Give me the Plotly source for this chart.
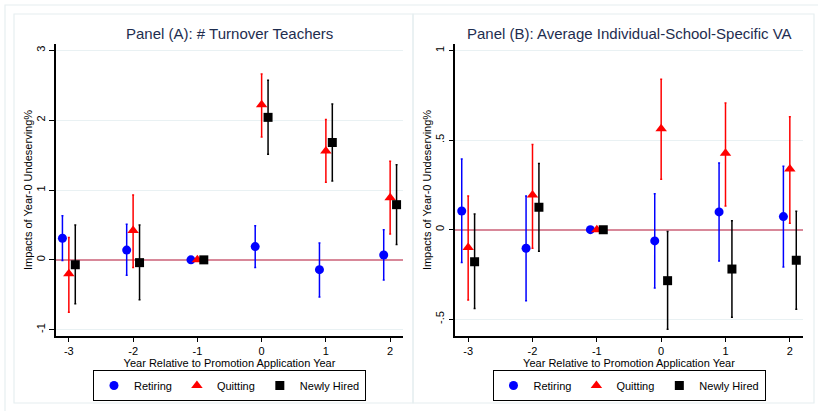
import plotly.graph_objects as go

W, H = 818, 411

years = [-3, -2, -1, 0, 1, 2]
series_names = ["Retiring", "Quitting", "Newly Hired"]
offsets = [-0.1, 0.0, 0.1]

# Panel A: # Turnover Teachers
a_ret = [0.31, 0.14, 0.0, 0.19, -0.14, 0.07]
a_ret_hi = [0.63, 0.51, 0.0, 0.49, 0.24, 0.43]
a_ret_lo = [-0.01, -0.22, 0.0, -0.11, -0.53, -0.29]
a_quit = [-0.20, 0.42, 0.0, 2.22, 1.56, 0.89]
a_quit_hi = [0.32, 0.93, 0.0, 2.66, 2.01, 1.41]
a_quit_lo = [-0.75, -0.11, 0.0, 1.76, 1.11, 0.37]
a_hire = [-0.07, -0.04, 0.0, 2.04, 1.68, 0.79]
a_hire_hi = [0.50, 0.50, 0.0, 2.57, 2.23, 1.36]
a_hire_lo = [-0.63, -0.57, 0.0, 1.51, 1.13, 0.22]

# Panel B: Average Individual-School-Specific VA
b_ret = [0.104, -0.104, 0.0, -0.063, 0.099, 0.073]
b_ret_hi = [0.395, 0.188, 0.0, 0.200, 0.373, 0.354]
b_ret_lo = [-0.184, -0.397, 0.0, -0.326, -0.175, -0.208]
b_quit = [-0.100, 0.194, 0.0, 0.564, 0.427, 0.339]
b_quit_hi = [0.188, 0.475, 0.0, 0.840, 0.708, 0.631]
b_quit_lo = [-0.393, -0.104, 0.0, 0.281, 0.132, 0.036]
b_hire = [-0.179, 0.125, 0.0, -0.285, -0.220, -0.171]
b_hire_hi = [0.088, 0.369, 0.0, -0.011, 0.050, 0.103]
b_hire_lo = [-0.441, -0.121, 0.0, -0.556, -0.489, -0.445]

a_ticks = [-1, 0, 1, 2, 3]
a_ticktext = ["-1", "0", "1", "2", "3"]
b_ticks = [-0.5, 0, 0.5, 1]
b_ticktext = ["-.5", "0", ".5", "1"]

titles = ["Panel (A): # Turnover Teachers", "Panel (B): Average Individual-School-Specific VA"]
xtitle = "Year Relative to Promotion Application Year"
ytitle = "Impacts of Year-0 Undeserving%"

colors = ["#0000ff", "#ff0000", "#000000"]
symbols = ["circle", "triangle-up", "square"]
msizes = [9, 10, 9]

def px(x):
    return x / W

def py(y):
    return 1 - y / H

fig = go.Figure()

panels = [
    ([a_ret, a_quit, a_hire], [a_ret_hi, a_quit_hi, a_hire_hi], [a_ret_lo, a_quit_lo, a_hire_lo], "x", "y", "legend"),
    ([b_ret, b_quit, b_hire], [b_ret_hi, b_quit_hi, b_hire_hi], [b_ret_lo, b_quit_lo, b_hire_lo], "x2", "y2", "legend2"),
]

for vals, his, los, xa, ya, lg in panels:
    for i in range(3):
        xs = [yr + offsets[i] for yr in years]
        plus = [h - v for h, v in zip(his[i], vals[i])]
        minus = [v - l for v, l in zip(vals[i], los[i])]
        fig.add_trace(go.Scatter(
            x=xs, y=vals[i], mode="markers", name=series_names[i],
            xaxis=xa, yaxis=ya, legend=lg,
            marker=dict(color=colors[i], symbol=symbols[i], size=msizes[i], line=dict(width=0)),
            error_y=dict(type="data", symmetric=False, array=plus, arrayminus=minus,
                         color=colors[i], thickness=1.5, width=1),
        ))

font_family = "Liberation Sans, Arial, sans-serif"
grid_c = "#e9f1f3"
zero_c = "#d88899"

ydom = [py(336), py(44)]
common_x = dict(range=[-3.2, 2.2], tickvals=years, ticktext=[str(v) for v in years],
                showgrid=False, zeroline=False, showline=True, linecolor="black", linewidth=1.5,
                ticks="outside", ticklen=4, tickcolor="black", tickwidth=1,
                tickfont=dict(size=11, color="black", family=font_family),
                title=dict(text=xtitle, font=dict(size=11, color="black", family=font_family), standoff=0))
common_y = dict(showgrid=True, gridcolor=grid_c, gridwidth=1, zeroline=True, zerolinecolor=zero_c,
                zerolinewidth=2, showline=True, linecolor="black", linewidth=1.5,
                ticks="outside", ticklen=5, tickcolor="black", tickwidth=1, tickangle=-90,
                tickfont=dict(size=11, color="black", family=font_family),
                title=dict(text=ytitle, font=dict(size=11, color="black", family=font_family), standoff=0))

fig.update_layout(
    width=W, height=H,
    margin=dict(l=0, r=0, t=0, b=0),
    paper_bgcolor="white", plot_bgcolor="white",
    font=dict(family=font_family, color="black"),
    xaxis=dict(domain=[px(56), px(403)], anchor="y", **common_x),
    yaxis=dict(domain=ydom, anchor="x", range=[-1.09, 3.09], tickvals=a_ticks, ticktext=a_ticktext, **common_y),
    xaxis2=dict(domain=[px(455.3), px(802.7)], anchor="y2", **common_x),
    yaxis2=dict(domain=ydom, anchor="x2", range=[-0.594, 1.037], tickvals=b_ticks, ticktext=b_ticktext, **common_y),
    legend=dict(orientation="h", x=px(229.5), xanchor="center", y=py(370), yanchor="top",
                bordercolor="black", borderwidth=1, bgcolor="white",
                font=dict(size=11, color="black", family=font_family),
                itemwidth=30, tracegroupgap=0),
    legend2=dict(orientation="h", x=px(629), xanchor="center", y=py(370), yanchor="top",
                 bordercolor="black", borderwidth=1, bgcolor="white",
                 font=dict(size=11, color="black", family=font_family),
                 itemwidth=30, tracegroupgap=0),
    showlegend=True,
)

# title annotations
for t, cx in zip(titles, [229.5, 629]):
    fig.add_annotation(text=t, x=px(cx), y=py(33), xref="paper", yref="paper",
                       showarrow=False, xanchor="center", yanchor="middle",
                       font=dict(size=15, color="#1e2d4f", family=font_family))

frame_c = "#e6eef0"
# outer frame
fig.add_shape(type="rect", xref="paper", yref="paper", x0=px(5), x1=px(830), y0=py(420), y1=py(5),
              line=dict(color=frame_c, width=1.2), fillcolor="rgba(0,0,0,0)", layer="below")
# panel frames
fig.add_shape(type="rect", xref="paper", yref="paper", x0=px(14), x1=px(413), y0=py(403), y1=py(14),
              line=dict(color=frame_c, width=1.2), fillcolor="rgba(0,0,0,0)", layer="below")
fig.add_shape(type="rect", xref="paper", yref="paper", x0=px(413), x1=px(814), y0=py(403), y1=py(14),
              line=dict(color=frame_c, width=1.2), fillcolor="rgba(0,0,0,0)", layer="below")

fig.write_html("out.html")
